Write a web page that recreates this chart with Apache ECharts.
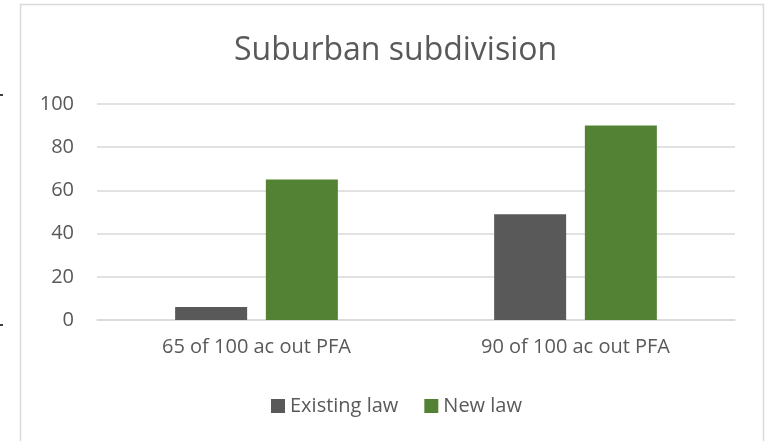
<!DOCTYPE html>
<html><head><meta charset="utf-8">
<script src="https://cdn.jsdelivr.net/npm/echarts@6/dist/echarts.min.js"></script>
<style>html,body{margin:0;padding:0;background:#fff}#c{width:771px;height:441px}</style>
</head><body><div id="c"></div>
<script>
const categories = ['65 of 100 ac out PFA', '90 of 100 ac out PFA'];
const existingLaw = [6, 49];
const newLaw = [65, 90];
const seriesNames = ['Existing law', 'New law'];
const titleText = 'Suburban subdivision';

const chart = echarts.init(document.getElementById('c'), null, {renderer: 'canvas'});
const font = '"Open Sans", "Noto Sans", sans-serif';
chart.setOption({
  animation: false,
  backgroundColor: '#fff',
  title: {text: titleText, left: 229, top: 30,
    textStyle: {fontFamily: font, fontSize: 32, fontWeight: 'normal', color: '#595959'}},
  legend: {bottom: 20, left: 266, itemWidth: 14, itemHeight: 14, itemGap: 26, icon: 'rect',
    textStyle: {fontFamily: font, fontSize: 20, color: '#595959'}},
  grid: {left: 97, right: 36, top: 104, bottom: 121},
  xAxis: {type: 'category', data: categories,
    axisLine: {lineStyle: {color: '#d9d9d9', width: 1.5}}, axisTick: {show: false},
    axisLabel: {fontFamily: font, fontSize: 20, color: '#595959', margin: 17}},
  yAxis: {type: 'value', min: 0, max: 100, interval: 20,
    axisLine: {show: false}, axisTick: {show: false},
    splitLine: {lineStyle: {color: '#d9d9d9', width: 1.5}},
    axisLabel: {fontFamily: font, fontSize: 20, color: '#595959', margin: 23}},
  series: [
    {name: seriesNames[0], type: 'bar', data: existingLaw, barWidth: 72, barGap: '26%',
      itemStyle: {color: '#595959'}},
    {name: seriesNames[1], type: 'bar', data: newLaw, barWidth: 72,
      itemStyle: {color: '#548235'}}
  ],
  graphic: [
    {type: 'rect', shape: {x: 20.5, y: 4.5, width: 743, height: 460}, style: {fill: 'none', stroke: '#d9d9d9', lineWidth: 1.5}, silent: true},
    {type: 'line', shape: {x1: 0, y1: 95, x2: 3, y2: 95}, style: {stroke: '#000', lineWidth: 1.5}},
    {type: 'line', shape: {x1: 0, y1: 325, x2: 3, y2: 325}, style: {stroke: '#000', lineWidth: 1.5}}
  ]
});
</script></body></html>
